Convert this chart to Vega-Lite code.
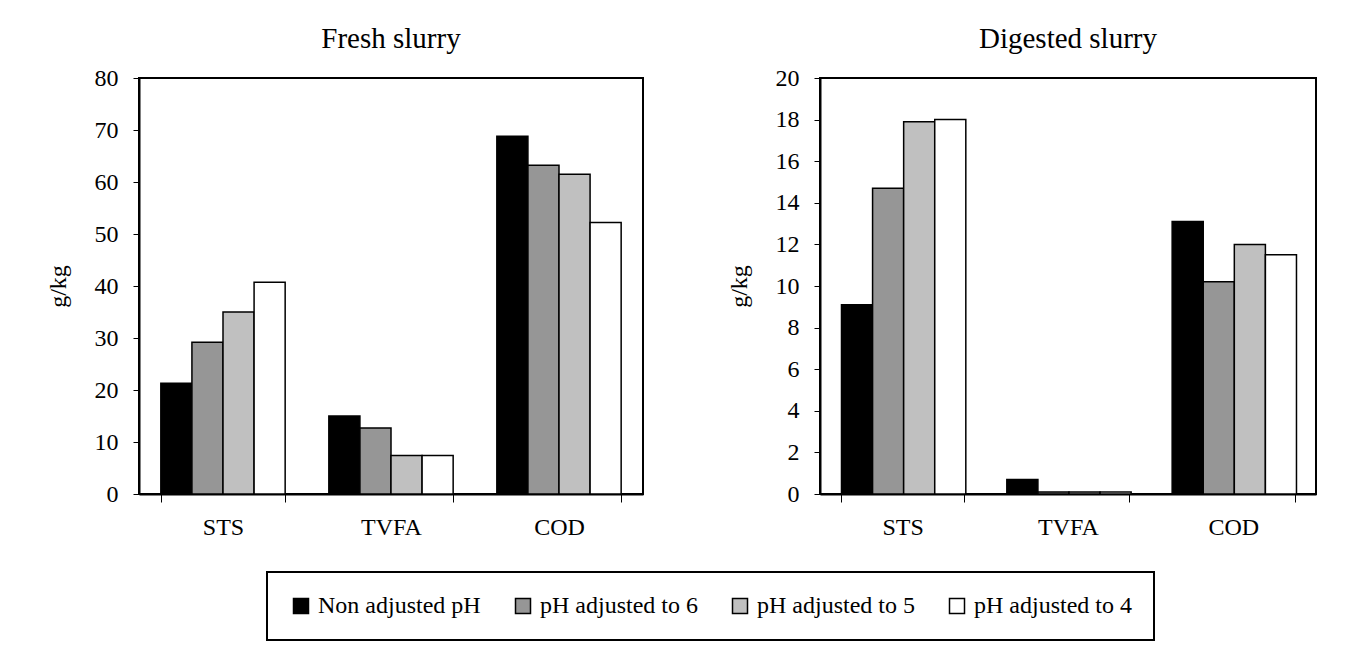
{
  "$schema": "https://vega.github.io/schema/vega-lite/v6.json",
  "background": "white",
  "padding": {"left": 45, "top": 24, "right": 30, "bottom": 10},
  "datasets": {
    "fresh": [
      {"param": "STS", "treatment": "Non adjusted pH", "value": 21.3},
      {"param": "STS", "treatment": "pH adjusted to 6", "value": 29.2},
      {"param": "STS", "treatment": "pH adjusted to 5", "value": 35.0},
      {"param": "STS", "treatment": "pH adjusted to 4", "value": 40.7},
      {"param": "TVFA", "treatment": "Non adjusted pH", "value": 15.0},
      {"param": "TVFA", "treatment": "pH adjusted to 6", "value": 12.7},
      {"param": "TVFA", "treatment": "pH adjusted to 5", "value": 7.4},
      {"param": "TVFA", "treatment": "pH adjusted to 4", "value": 7.4},
      {"param": "COD", "treatment": "Non adjusted pH", "value": 68.8},
      {"param": "COD", "treatment": "pH adjusted to 6", "value": 63.2},
      {"param": "COD", "treatment": "pH adjusted to 5", "value": 61.5},
      {"param": "COD", "treatment": "pH adjusted to 4", "value": 52.2}
    ],
    "digested": [
      {"param": "STS", "treatment": "Non adjusted pH", "value": 9.1},
      {"param": "STS", "treatment": "pH adjusted to 6", "value": 14.7},
      {"param": "STS", "treatment": "pH adjusted to 5", "value": 17.9},
      {"param": "STS", "treatment": "pH adjusted to 4", "value": 18.0},
      {"param": "TVFA", "treatment": "Non adjusted pH", "value": 0.7},
      {"param": "TVFA", "treatment": "pH adjusted to 6", "value": 0.1},
      {"param": "TVFA", "treatment": "pH adjusted to 5", "value": 0.1},
      {"param": "TVFA", "treatment": "pH adjusted to 4", "value": 0.1},
      {"param": "COD", "treatment": "Non adjusted pH", "value": 13.1},
      {"param": "COD", "treatment": "pH adjusted to 6", "value": 10.2},
      {"param": "COD", "treatment": "pH adjusted to 5", "value": 12.0},
      {"param": "COD", "treatment": "pH adjusted to 4", "value": 11.5}
    ]
  },
  "spacing": 82,
  "hconcat": [
    {
      "title": "Fresh slurry",
      "data": {"name": "fresh"},
      "width": 504,
      "height": 416,
      "mark": {"type": "bar", "stroke": "black", "strokeWidth": 1.5},
      "encoding": {
        "x": {"field": "param", "type": "nominal", "sort": ["STS", "TVFA", "COD"], "title": null,
              "scale": {"paddingInner": 0.26, "paddingOuter": 0.13}},
        "xOffset": {"field": "treatment", "type": "nominal", "sort": ["Non adjusted pH", "pH adjusted to 6", "pH adjusted to 5", "pH adjusted to 4"]},
        "y": {"field": "value", "type": "quantitative", "title": "g/kg",
              "scale": {"domain": [0, 80], "nice": false},
              "axis": {"values": [0, 10, 20, 30, 40, 50, 60, 70, 80]}},
        "fill": {"field": "treatment", "type": "nominal",
                 "scale": {"domain": ["Non adjusted pH", "pH adjusted to 6", "pH adjusted to 5", "pH adjusted to 4"],
                           "range": ["#000000", "#969696", "#c0c0c0", "#ffffff"]},
                 "legend": {"title": null, "orient": "none", "legendX": 128, "legendY": 494}}
      }
    },
    {
      "title": "Digested slurry",
      "data": {"name": "digested"},
      "width": 496,
      "height": 416,
      "mark": {"type": "bar", "stroke": "black", "strokeWidth": 1.5},
      "encoding": {
        "x": {"field": "param", "type": "nominal", "sort": ["STS", "TVFA", "COD"], "title": null,
              "scale": {"paddingInner": 0.26, "paddingOuter": 0.13}},
        "xOffset": {"field": "treatment", "type": "nominal", "sort": ["Non adjusted pH", "pH adjusted to 6", "pH adjusted to 5", "pH adjusted to 4"]},
        "y": {"field": "value", "type": "quantitative", "title": "g/kg",
              "scale": {"domain": [0, 20], "nice": false},
              "axis": {"values": [0, 2, 4, 6, 8, 10, 12, 14, 16, 18, 20]}},
        "fill": {"field": "treatment", "type": "nominal",
                 "scale": {"domain": ["Non adjusted pH", "pH adjusted to 6", "pH adjusted to 5", "pH adjusted to 4"],
                           "range": ["#000000", "#969696", "#c0c0c0", "#ffffff"]},
                 "legend": {"title": null, "orient": "none", "legendX": 128, "legendY": 494}}
      }
    }
  ],
  "config": {
    "font": "Liberation Serif",
    "view": {"stroke": "black", "strokeWidth": 2},
    "title": {"font": "Liberation Serif", "fontSize": 29, "fontWeight": "normal", "color": "black", "offset": 12},
    "style": {"guide-label": {"font": "Liberation Serif"}, "guide-title": {"font": "Liberation Serif"}},
    "axis": {
      "grid": false,
      "domainColor": "black",
      "domainWidth": 2,
      "tickColor": "black",
      "tickWidth": 1,
      "labelFont": "Liberation Serif",
      "labelFontSize": 24,
      "labelColor": "black",
      "titleFont": "Liberation Serif",
      "titleFontSize": 24,
      "titleFontWeight": "normal",
      "titleColor": "black"
    },
    "axisY": {"tickSize": 6, "labelPadding": 15, "titlePadding": 24},
    "axisX": {"tickBand": "extent", "tickSize": 8, "labelAngle": 0, "labelPadding": 13},
    "legend": {
      "direction": "horizontal",
      "strokeColor": "black",
      "strokeWidth": 2,
      "padding": 22,
      "symbolType": "square",
      "symbolSize": 225,
      "symbolStrokeColor": "black",
      "symbolStrokeWidth": 1.5,
      "labelFont": "Liberation Serif",
      "labelFontSize": 24,
      "labelColor": "black",
      "labelLimit": 300,
      "columnPadding": 30,
      "labelOffset": 5
    }
  }
}
